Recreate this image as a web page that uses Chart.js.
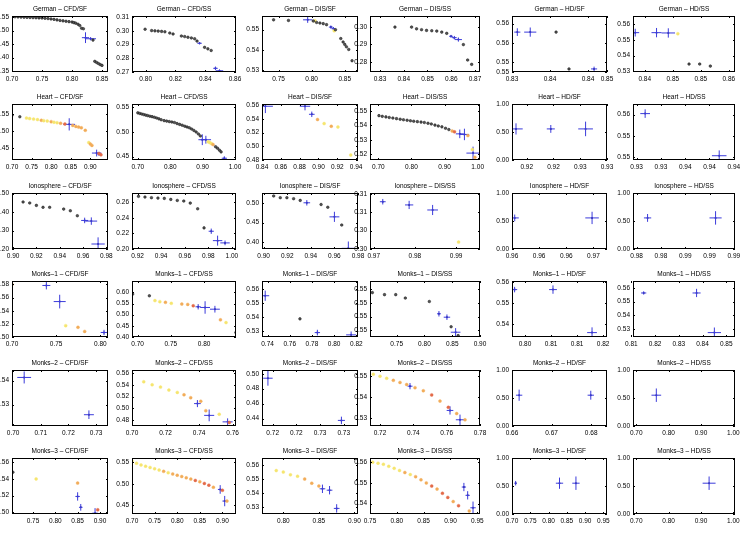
<!DOCTYPE html>
<html>
<head>
<meta charset="utf-8">
<script src="https://cdn.jsdelivr.net/npm/chart.js@4.4.1/dist/chart.umd.min.js"></script>
<style>
  html, body { margin: 0; padding: 0; background: #fff; }
  #grid { position: relative; width: 742px; height: 534px; overflow: hidden; background: #fff; }
  #grid canvas { position: absolute; }
</style>
</head>
<body>
<div id="grid"></div>
<script>
const datasetNames = ["German", "Heart", "Ionosphere", "Monks–1", "Monks–2", "Monks–3"];
const methodNames = ["CFD/SF", "CFD/SS", "DIS/SF", "DIS/SS", "HD/SF", "HD/SS"];

// axis limits, one entry per panel (row by row)
const xLimits = [
  [0.70, 0.86], [0.7908, 0.8607], [0.725, 0.87], [0.8258, 0.8721], [0.8325, 0.845], [0.8379, 0.8561],
  [0.70, 0.945], [0.682, 1.003], [0.84, 0.942], [0.675, 1.007], [0.9209, 0.928], [0.9317, 0.9401],
  [0.8991, 0.9814], [0.9153, 1.0035], [0.8986, 0.98], [0.9691, 0.9958], [0.960, 0.967], [0.9817, 0.9901],
  [0.70, 0.8087], [0.6916, 0.848], [0.735, 0.8215], [0.702, 0.90], [0.802, 0.8166], [0.8107, 0.8537],
  [0.6996, 0.7343], [0.70, 0.762], [0.7211, 0.7292], [0.714, 0.78], [0.66, 0.684], [0.69, 1.005],
  [0.703, 0.918], [0.70, 0.93], [0.77, 0.905], [0.75, 0.955], [0.70, 0.96], [0.69, 1.005]
];
const yLimits = [
  [0.3465, 0.5545], [0.2698, 0.3109], [0.529, 0.5568], [0.2741, 0.3064], [0.5512, 0.5585], [0.5294, 0.5654],
  [0.414, 0.579], [0.443, 0.557], [0.48, 0.562], [0.5159, 0.5549], [0, 1], [0.5495, 0.560],
  [0.20, 0.503], [0.20, 0.2716], [0.3825, 0.526], [0.300, 0.3122], [0, 1], [0, 1],
  [0.50, 0.5852], [0.40, 0.651], [0.5261, 0.5656], [0.547, 0.5552], [0.5338, 0.5605], [0.5243, 0.565],
  [0.5211, 0.5444], [0.47, 0.565], [0.43, 0.505], [0.526, 0.553], [0, 1], [0, 1],
  [0.498, 0.565], [0.43, 0.56], [0.525, 0.565], [0.535, 0.562], [0, 1], [0, 1]
];

// tick labels as printed; tick values only where they differ from the label
const xTickLabels = [
  "0.70 0.75 0.80 0.85", "0.80 0.82 0.84 0.86", "0.75 0.80 0.85", "0.83 0.84 0.85 0.86 0.87", "0.83 0.84 0.84 0.85", "0.84 0.85 0.85 0.86",
  "0.70 0.75 0.80 0.85 0.90", "0.70 0.80 0.90 1.00", "0.84 0.86 0.88 0.90 0.92 0.94", "0.70 0.80 0.90 1.00", "0.92 0.92 0.93 0.93", "0.93 0.93 0.94 0.94 0.94",
  "0.90 0.92 0.94 0.96 0.98", "0.92 0.94 0.96 0.98 1.00", "0.90 0.92 0.94 0.96 0.98", "0.97 0.98 0.99", "0.96 0.96 0.96 0.97", "0.98 0.98 0.99 0.99 0.99",
  "0.70 0.75 0.80", "0.70 0.75 0.80", "0.74 0.76 0.78 0.80 0.82", "0.75 0.80 0.85 0.90", "0.80 0.81 0.81 0.82", "0.81 0.82 0.83 0.84 0.85",
  "0.70 0.71 0.72 0.73", "0.70 0.72 0.74 0.76", "0.72 0.72 0.73 0.73", "0.72 0.74 0.76 0.78", "0.66 0.67 0.68", "0.70 0.80 0.90 1.00",
  "0.75 0.80 0.85 0.90", "0.70 0.75 0.80 0.85 0.90", "0.80 0.85 0.90", "0.75 0.80 0.85 0.90 0.95", "0.70 0.75 0.80 0.85 0.90 0.95", "0.70 0.80 0.90 1.00"
];
const xTickValues = {
  4: [0.8325, 0.8375, 0.8425, 0.845],
  5: [0.840, 0.845, 0.850, 0.855],
  10: [0.922, 0.924, 0.926, 0.928],
  11: [0.932, 0.934, 0.936, 0.938, 0.940],
  16: [0.960, 0.962, 0.964, 0.966],
  17: [0.982, 0.984, 0.986, 0.988, 0.990],
  22: [0.804, 0.808, 0.812, 0.816],
  26: [0.722, 0.724, 0.726, 0.728]
};
const yTickLabels = [
  "0.35 0.40 0.45 0.50 0.55", "0.27 0.28 0.29 0.30 0.31", "0.53 0.54 0.55", "0.28 0.29 0.30", "0.55 0.55 0.56 0.56", "0.53 0.54 0.55 0.56",
  "0.45 0.50 0.55", "0.45 0.50 0.55", "0.48 0.50 0.52 0.54 0.56", "0.52 0.53 0.54 0.55", "0.00 0.50 1.00", "0.55 0.55 0.56",
  "0.20 0.30 0.40 0.50", "0.20 0.22 0.24 0.26", "0.40 0.45 0.50", "0.30 0.30 0.31 0.31", "0.00 0.50 1.00", "0.00 0.50 1.00",
  "0.50 0.52 0.54 0.56 0.58", "0.40 0.45 0.50 0.55 0.60", "0.53 0.54 0.55 0.56", "0.55 0.55 0.55 0.55", "0.54 0.55 0.56", "0.53 0.54 0.55 0.56",
  "0.53 0.54", "0.48 0.50 0.52 0.54 0.56", "0.44 0.46 0.48 0.50", "0.53 0.54 0.55", "0.00 0.50 1.00", "0.00 0.50 1.00",
  "0.50 0.52 0.54 0.56", "0.45 0.50 0.55", "0.53 0.54 0.55 0.56", "0.54 0.55 0.56", "0.00 0.50 1.00", "0.00 0.50 1.00"
];
const yTickValues = {
  4: [0.5512, 0.5525, 0.555, 0.5575],
  11: [0.550, 0.554, 0.558],
  15: [0.300, 0.304, 0.308, 0.312],
  21: [0.548, 0.550, 0.552, 0.554]
};

// black solutions [x, y]
const blackPoints = [
  // German
  [[0.700,0.552],[0.705,0.5515],[0.710,0.551],[0.715,0.5505],[0.720,0.550],[0.725,0.5495],[0.730,0.549],[0.735,0.5485],[0.740,0.548],[0.745,0.5475],[0.750,0.547],[0.755,0.546],[0.760,0.545],[0.765,0.5435],[0.770,0.542],[0.775,0.540],[0.780,0.538],[0.785,0.5365],[0.790,0.535],[0.795,0.5335],[0.800,0.532],[0.803,0.530],[0.806,0.528],[0.810,0.524],[0.813,0.519],[0.816,0.509],[0.819,0.507],[0.835,0.465],[0.838,0.386],[0.841,0.382],[0.844,0.378],[0.847,0.374],[0.850,0.371]],
  [[0.7996,0.3012],[0.804,0.3002],[0.8062,0.3000],[0.8084,0.2998],[0.8107,0.2996],[0.8129,0.2993],[0.8162,0.2984],[0.8184,0.2977],[0.824,0.2962],[0.8262,0.2958],[0.8284,0.2953],[0.8307,0.2948],[0.8329,0.2942],[0.8345,0.2925],[0.8396,0.2879],[0.8418,0.2868],[0.844,0.2856]],
  [[0.7425,0.5549],[0.765,0.5546],[0.8025,0.5543],[0.8075,0.5536],[0.8125,0.5533],[0.8175,0.553],[0.8225,0.5525],[0.836,0.55],[0.844,0.5456],[0.8475,0.5439],[0.850,0.5427],[0.8525,0.5415],[0.856,0.5402],[0.861,0.5346]],
  [[0.8363,0.300],[0.8433,0.300],[0.8454,0.299],[0.8475,0.2985],[0.8496,0.2981],[0.8518,0.2979],[0.8539,0.2977],[0.856,0.2971],[0.8581,0.2964],[0.8651,0.2899],[0.8669,0.281],[0.8686,0.2785]],
  [[0.8383,0.5564],[0.84,0.5516]],
  [[0.8479,0.5345],[0.8498,0.5345],[0.8517,0.5332]],
  // Heart
  [[0.70,0.5455],[0.72,0.5414]],
  [[0.700,0.539],[0.706,0.5378],[0.712,0.5366],[0.718,0.5355],[0.724,0.5344],[0.730,0.5334],[0.737,0.5322],[0.744,0.5312],[0.751,0.5300],[0.758,0.5285],[0.765,0.5268],[0.772,0.5250],[0.781,0.5232],[0.789,0.5222],[0.797,0.5212],[0.805,0.5203],[0.813,0.5193],[0.821,0.5172],[0.829,0.5155],[0.837,0.5138],[0.845,0.5118],[0.852,0.5102],[0.859,0.5086],[0.866,0.5060],[0.873,0.5032],[0.880,0.5000],[0.887,0.4960],[0.893,0.4920],[0.940,0.4700],[0.946,0.4670],[0.952,0.4630],[0.957,0.4595]],
  [],
  [[0.702,0.5468],[0.712,0.5463],[0.723,0.5459],[0.733,0.5455],[0.744,0.5451],[0.755,0.5447],[0.766,0.5443],[0.776,0.5439],[0.787,0.5436],[0.797,0.5432],[0.807,0.5429],[0.818,0.5426],[0.829,0.5423],[0.839,0.542],[0.85,0.5415],[0.86,0.541],[0.871,0.5402],[0.881,0.5396],[0.892,0.539],[0.903,0.538],[0.913,0.5371]],
  [],
  [],
  // Ionosphere
  [[0.9086,0.4545],[0.9143,0.449],[0.92,0.436],[0.9257,0.4255],[0.9314,0.4255],[0.9434,0.416],[0.9491,0.407],[0.9551,0.38]],
  [[0.9208,0.2673],[0.9263,0.2664],[0.9318,0.2656],[0.9373,0.2651],[0.9427,0.2647],[0.9482,0.2634],[0.9537,0.2621],[0.9592,0.2613],[0.9647,0.2587],[0.971,0.2514],[0.9764,0.227]],
  [[0.9085,0.5184],[0.9141,0.514],[0.9197,0.514],[0.9254,0.5114],[0.931,0.507],[0.9487,0.4965],[0.9544,0.4895],[0.9662,0.4439]],
  [],
  [],
  [],
  // Monks-1
  [],
  [[0.6926,0.5923],[0.7177,0.5846],[0.8478,0.42]],
  [[0.7692,0.5389]],
  [[0.7062,0.5535],[0.7281,0.5532],[0.7483,0.5532],[0.7656,0.5527],[0.8088,0.5522],[0.848,0.5485],[0.8607,0.5472]],
  [],
  [],
  // Monks-2
  [], [], [], [], [], [],
  // Monks-3
  [[0.705,0.548]], [], [], [], [], []
];

// coloured solutions [x, y, shade] with shade 0 yellow, 1 orange, 2 red
const colourPoints = [
  [], [], [[0.805,0.5545,0],[0.834,0.5495,0]], [], [], [[0.8459,0.554,0]],
  [[0.737,0.5376,0],[0.745,0.536,0],[0.755,0.5345,0],[0.765,0.533,0],[0.775,0.531,1],[0.781,0.530,0],[0.79,0.529,0],[0.80,0.527,1],[0.807,0.5253,0],[0.815,0.524,0],[0.824,0.5222,1],[0.835,0.520,2],[0.855,0.516,1],[0.863,0.513,1],[0.870,0.511,1],[0.877,0.5088,1],[0.887,0.5015,1],[0.896,0.4655,0],[0.900,0.461,1],[0.904,0.457,1],[0.922,0.433,2],[0.927,0.4294,2]],
  [[0.917,0.4800,0],[0.922,0.4785,0],[0.927,0.4765,0],[0.932,0.4745,1]],
  [[0.899,0.5393,1],[0.906,0.5333,0],[0.9136,0.5294,1],[0.9207,0.5284,0],[0.9343,0.4874,0]],
  [[0.923,0.5361,1],[0.93,0.5355,2],[0.9705,0.5329,1],[0.984,0.5232,0],[0.9916,0.5178,1]],
  [], [],
  [], [], [], [[0.9906,0.3015,0]], [], [],
  [[0.70,0.58,1],[0.7608,0.5173,0],[0.7747,0.5147,1],[0.7823,0.5085,1]],
  [[0.7261,0.5631,0],[0.7335,0.5585,0],[0.7419,0.5554,1],[0.7507,0.5508,0],[0.7665,0.5477,1],[0.7754,0.5462,1],[0.7837,0.54,2],[0.8246,0.4769,1],[0.833,0.4646,0]],
  [], [], [], [],
  [],
  [[0.707,0.545,0],[0.712,0.540,0],[0.717,0.536,0],[0.722,0.531,0],[0.727,0.527,0],[0.731,0.523,1],[0.735,0.518,1],[0.741,0.512,1],[0.744,0.496,1],[0.752,0.49,0],[0.758,0.476,2]],
  [],
  [[0.716,0.551,0],[0.72,0.550,0],[0.724,0.549,0],[0.728,0.548,1],[0.732,0.547,1],[0.736,0.546,1],[0.741,0.5445,1],[0.746,0.543,1],[0.751,0.541,2],[0.756,0.538,1],[0.761,0.535,2],[0.766,0.532,1],[0.771,0.529,1]],
  [], [],
  [[0.757,0.540,0],[0.85,0.535,1],[0.895,0.503,2]],
  [[0.70,0.553,0],[0.71,0.548,0],[0.72,0.544,0],[0.73,0.541,0],[0.74,0.538,0],[0.75,0.535,0],[0.76,0.532,0],[0.77,0.529,1],[0.78,0.526,0],[0.79,0.523,1],[0.80,0.520,1],[0.81,0.517,1],[0.82,0.514,1],[0.83,0.511,1],[0.84,0.508,2],[0.85,0.505,1],[0.86,0.501,2],[0.87,0.497,2],[0.88,0.492,1],[0.90,0.485,2],[0.91,0.46,1]],
  [[0.79,0.556,0],[0.80,0.555,0],[0.81,0.553,0],[0.82,0.552,0],[0.83,0.55,1],[0.84,0.547,1],[0.85,0.545,1]],
  [[0.755,0.560,0],[0.765,0.5595,0],[0.775,0.559,0],[0.785,0.558,0],[0.795,0.557,0],[0.805,0.556,0],[0.815,0.555,1],[0.825,0.554,0],[0.835,0.553,1],[0.845,0.5515,1],[0.855,0.550,1],[0.865,0.5485,2],[0.875,0.547,1],[0.885,0.545,2],[0.895,0.543,2],[0.905,0.541,1],[0.915,0.539,2],[0.935,0.5365,1]],
  [], []
];

// mean solutions with spread [x, y, xSpread, ySpread]
const crossPoints = [
  [[0.8225,0.474,0.006,0.020],[0.831,0.470,0.009,0.006]],
  [[0.8362,0.2909,0.0015,0.0008],[0.8469,0.2725,0.0015,0.0013],[0.8496,0.2707,0.0025,0.0010]],
  [[0.794,0.5549,0.007,0.0015],[0.829,0.5513,0.003,0.0008],[0.833,0.5505,0.003,0.0008]],
  [[0.8599,0.2947,0.0008,0.0008],[0.8613,0.2939,0.001,0.001],[0.863,0.2928,0.0015,0.0012]],
  [[0.8332,0.5564,0.0004,0.0005],[0.8349,0.5564,0.0008,0.0006],[0.8433,0.5516,0.0004,0.0003]],
  [[0.8383,0.5547,0.0007,0.0025],[0.8421,0.5547,0.0009,0.003],[0.8442,0.5545,0.0012,0.003]],
  [[0.846,0.519,0.015,0.018],[0.916,0.4345,0.012,0.01],[0.922,0.432,0.006,0.006]],
  [[0.899,0.4843,0.012,0.011],[0.91,0.4843,0.016,0.008],[0.967,0.4466,0.008,0.004]],
  [[0.8436,0.5587,0.008,0.01],[0.8857,0.5587,0.0055,0.006],[0.8929,0.5469,0.003,0.004]],
  [[0.946,0.5341,0.012,0.003],[0.96,0.5337,0.014,0.004],[0.986,0.5207,0.02,0.0045]],
  [[0.9212,0.555,0.0005,0.1],[0.9238,0.555,0.0003,0.07],[0.9264,0.555,0.00055,0.13]],
  [[0.9327,0.5582,0.0004,0.0008],[0.9388,0.5503,0.0006,0.001]],
  [[0.9614,0.3545,0.003,0.015],[0.9671,0.351,0.005,0.02],[0.9729,0.227,0.0057,0.036]],
  [[0.9825,0.2227,0.0022,0.0034],[0.9879,0.2107,0.004,0.0064],[0.9942,0.2078,0.004,0.003]],
  [[0.9366,0.5009,0.0028,0.007],[0.96,0.4649,0.0042,0.013],[0.9718,0.3842,0.0056,0.0175]],
  [[0.9722,0.3103,0.0007,0.0006],[0.9786,0.3096,0.001,0.0009],[0.9843,0.3085,0.0013,0.0011]],
  [[0.9602,0.555,0.0003,0.06],[0.9659,0.555,0.0005,0.11]],
  [[0.9829,0.555,0.0003,0.07],[0.9885,0.555,0.0005,0.12]],
  [[0.7389,0.5784,0.0045,0.006],[0.754,0.5539,0.0068,0.0104],[0.8042,0.5069,0.0038,0.004]],
  [[0.7911,0.5354,0.004,0.012],[0.8015,0.5323,0.0074,0.028],[0.8163,0.5246,0.0074,0.015]],
  [[0.7379,0.5552,0.0036,0.0036],[0.7849,0.5292,0.0024,0.002],[0.8153,0.5276,0.0045,0.0024]],
  [[0.8261,0.5504,0.0035,0.0004],[0.8405,0.5499,0.0058,0.0004],[0.8561,0.5477,0.0087,0.0006]],
  [[0.8024,0.5564,0.0004,0.0013],[0.8083,0.5564,0.0006,0.002],[0.8143,0.5359,0.00075,0.0025]],
  [[0.8152,0.5563,0.0011,0.0012],[0.8375,0.5563,0.0017,0.003],[0.845,0.5275,0.0028,0.0037]],
  [[0.7040,0.5413,0.0025,0.0025],[0.7274,0.5258,0.0018,0.0018]],
  [[0.739,0.508,0.002,0.006],[0.746,0.488,0.003,0.01],[0.757,0.477,0.003,0.006]],
  [[0.7216,0.494,0.0004,0.01],[0.7278,0.4375,0.0003,0.005]],
  [[0.738,0.5452,0.0015,0.0015],[0.762,0.5335,0.002,0.002],[0.768,0.529,0.0025,0.0025]],
  [[0.6618,0.55,0.0008,0.1],[0.6799,0.55,0.0008,0.08]],
  [[0.762,0.55,0.015,0.12]],
  [[0.85,0.519,0.005,0.005],[0.857,0.506,0.004,0.004],[0.889,0.499,0.006,0.006]],
  [[0.895,0.487,0.005,0.01],[0.905,0.46,0.005,0.012]],
  [[0.855,0.543,0.004,0.003],[0.865,0.542,0.004,0.003],[0.875,0.529,0.004,0.003]],
  [[0.925,0.548,0.004,0.002],[0.932,0.544,0.004,0.002],[0.942,0.538,0.005,0.003]],
  [[0.71,0.55,0.003,0.04],[0.83,0.55,0.01,0.1],[0.875,0.55,0.01,0.12]],
  [[0.925,0.55,0.02,0.12]]
];

// layout of the 6 x 6 grid (plot box edges in page pixels)
const colLeft = [12, 132, 262, 370, 512, 633];
const colRight = [108, 236, 358, 480, 607, 735];
const rowTop = [16, 104, 193, 281, 370, 458];
const plotH = 56;
const axisW = 30, axisH = 14, titleH = 11, padRight = 12;
const fontFamily = '"Liberation Sans", Arial, sans-serif';
const shadeColours = ["#f6e56e", "#f2ac58", "#e36a48"];
const crossColour = "#3b3bdb";

// draws the closed box and short inward ticks, like the original figure
const frame = {
  id: "frame",
  afterDraw(chart) {
    const { ctx, chartArea: a, scales } = chart;
    ctx.save();
    ctx.strokeStyle = "#000";
    ctx.lineWidth = 1;
    ctx.strokeRect(Math.round(a.left) + 0.5, Math.round(a.top) + 0.5, Math.round(a.width) - 1, Math.round(a.height) - 1);
    ctx.beginPath();
    scales.x.ticks.forEach(t => {
      const px = Math.round(scales.x.getPixelForValue(t.value)) + 0.5;
      ctx.moveTo(px, a.bottom); ctx.lineTo(px, a.bottom - 2);
      ctx.moveTo(px, a.top); ctx.lineTo(px, a.top + 2);
    });
    scales.y.ticks.forEach(t => {
      const py = Math.round(scales.y.getPixelForValue(t.value)) + 0.5;
      ctx.moveTo(a.left, py); ctx.lineTo(a.left + 2, py);
      ctx.moveTo(a.right, py); ctx.lineTo(a.right - 2, py);
    });
    ctx.stroke();
    ctx.restore();
  }
};

function makeAxis(lim, labels, values, isX) {
  return {
    type: "linear",
    min: lim[0],
    max: lim[1],
    grid: { display: false, drawTicks: false },
    border: { display: false },
    afterBuildTicks: s => { s.ticks = values.map(v => ({ value: v })); },
    afterFit: s => { if (isX) s.height = axisH; else s.width = axisW; },
    ticks: {
      autoSkip: false,
      maxRotation: 0,
      padding: 3,
      color: "#000",
      font: { family: fontFamily, size: 6.5 },
      callback: (v, k) => labels[k]
    }
  };
}

const grid = document.getElementById("grid");

for (let i = 0; i < 36; i++) {
  const r = Math.floor(i / 6), c = i % 6;
  const title = datasetNames[r] + " – " + methodNames[c];

  const xl = xTickLabels[i].split(" ");
  const xv = xTickValues[i] || xl.map(Number);
  const yl = yTickLabels[i].split(" ");
  const yv = yTickValues[i] || yl.map(Number);

  const canvas = document.createElement("canvas");
  canvas.width = axisW + (colRight[c] - colLeft[c]) + padRight;
  canvas.height = titleH + plotH + axisH;
  canvas.style.left = (colLeft[c] - axisW) + "px";
  canvas.style.top = (rowTop[r] - titleH) + "px";
  grid.appendChild(canvas);

  const crossLines = [];
  crossPoints[i].forEach(([x, y, ex, ey]) => {
    crossLines.push({ x: x - ex, y: y }, { x: x + ex, y: y }, { x: null, y: null },
                    { x: x, y: y - ey }, { x: x, y: y + ey }, { x: null, y: null });
  });

  new Chart(canvas, {
    type: "scatter",
    data: {
      datasets: [
        {
          data: blackPoints[i].map(p => ({ x: p[0], y: p[1] })),
          pointRadius: 1.3,
          backgroundColor: "#555",
          borderColor: "#111",
          borderWidth: 0.5
        },
        {
          data: colourPoints[i].map(p => ({ x: p[0], y: p[1] })),
          pointRadius: 1.5,
          backgroundColor: colourPoints[i].map(p => shadeColours[p[2]]),
          borderColor: colourPoints[i].map(p => shadeColours[p[2]]),
          borderWidth: 0.4
        },
        {
          data: crossLines,
          showLine: true,
          borderColor: crossColour,
          borderWidth: 1,
          pointRadius: 0,
          spanGaps: false
        },
        {
          data: crossPoints[i].map(p => ({ x: p[0], y: p[1] })),
          pointRadius: 1,
          backgroundColor: "#14145a",
          borderWidth: 0
        }
      ]
    },
    options: {
      responsive: false,
      animation: false,
      events: [],
      layout: { padding: { right: padRight } },
      plugins: {
        legend: { display: false },
        tooltip: { enabled: false },
        title: {
          display: true,
          text: title,
          fullSize: false,
          color: "#000",
          font: { family: fontFamily, size: 6.5, weight: "normal" },
          padding: { top: 0, bottom: 3.2 }
        }
      },
      scales: {
        x: makeAxis(xLimits[i], xl, xv, true),
        y: makeAxis(yLimits[i], yl, yv, false)
      }
    },
    plugins: [frame]
  });
}
</script>
</body>
</html>
